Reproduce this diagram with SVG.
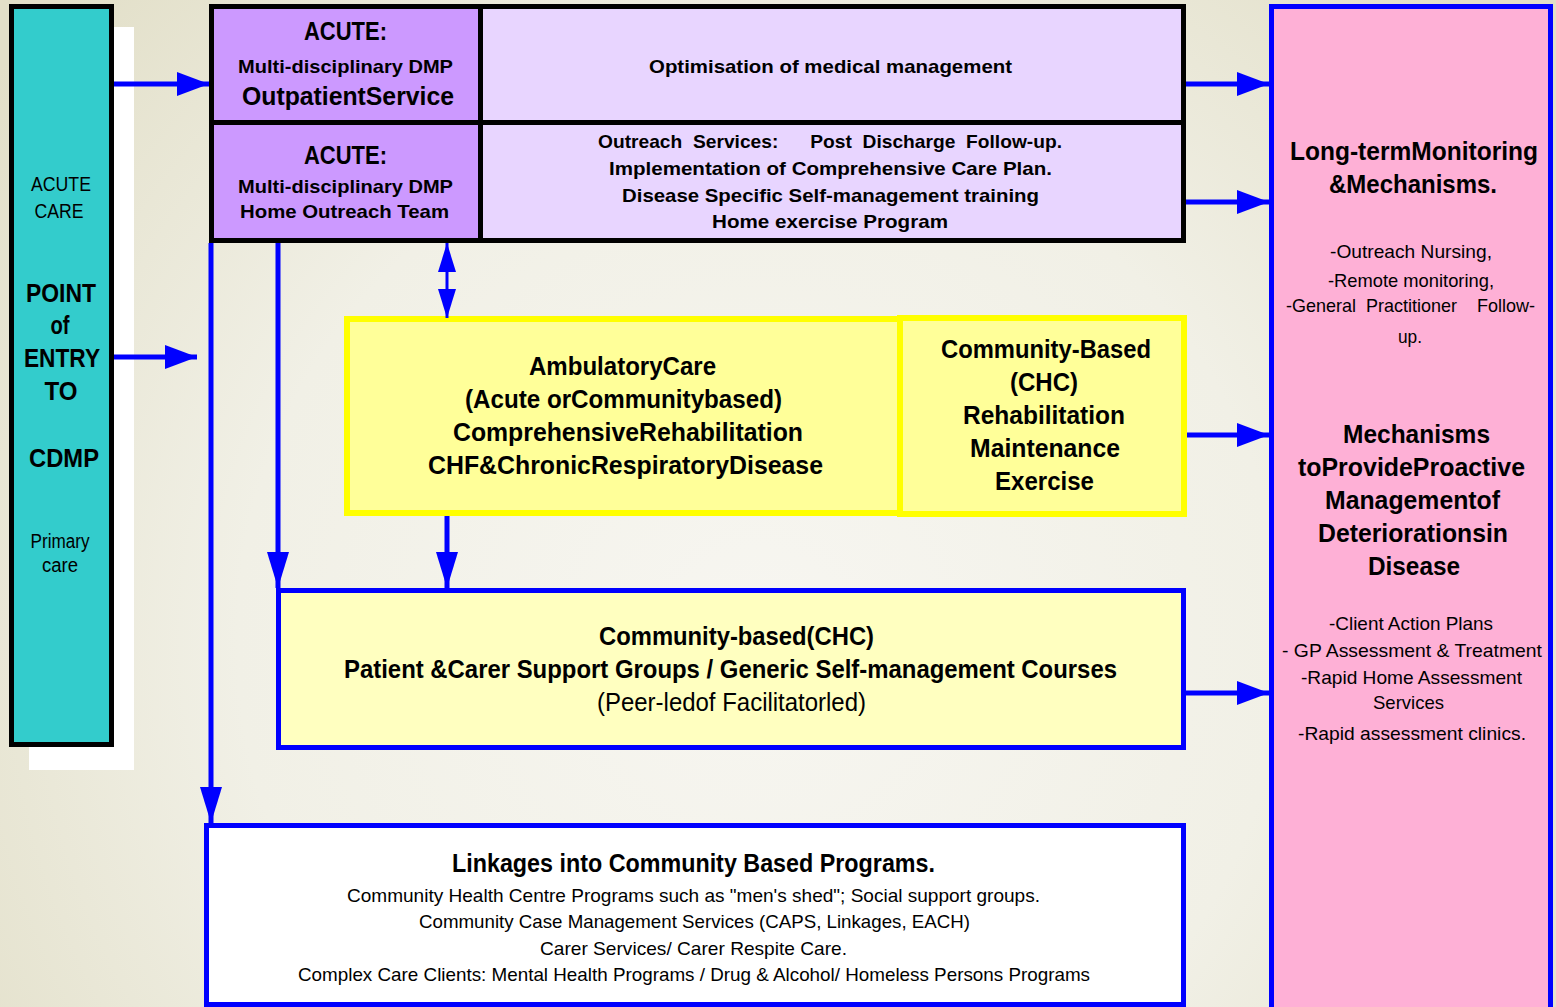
<svg xmlns="http://www.w3.org/2000/svg" width="1556" height="1007" viewBox="0 0 1556 1007">
<defs>
<radialGradient id="bg" cx="760" cy="640" r="950" gradientUnits="userSpaceOnUse">
<stop offset="0" stop-color="#f7f6f1"/>
<stop offset="0.55" stop-color="#f1f0e6"/>
<stop offset="1" stop-color="#e2dfc8"/>
</radialGradient>
<marker id="ah" markerUnits="userSpaceOnUse" markerWidth="32" markerHeight="24" refX="32" refY="12" orient="auto-start-reverse"><path d="M0,0 L32,12 L0,24 z" fill="#0000ff"/></marker>
<marker id="ahv" markerUnits="userSpaceOnUse" markerWidth="36" markerHeight="22" refX="36" refY="11" orient="auto-start-reverse"><path d="M0,0 L36,11 L0,22 z" fill="#0000ff"/></marker>
<marker id="ahs" markerUnits="userSpaceOnUse" markerWidth="29" markerHeight="18" refX="29" refY="9" orient="auto-start-reverse"><path d="M0,0 L29,9 L0,18 z" fill="#0000ff"/></marker>
<style>
text{font-family:"Liberation Sans",Arial,sans-serif;fill:#000;text-anchor:middle}
.b{font-weight:bold}
.k{stroke:#000;stroke-width:5}
.blue{stroke:#0000ff;stroke-width:5}
.yel{stroke:#ffff00;stroke-width:6;fill:#ffff99}
.c{stroke:#0000ff;stroke-width:5;fill:none}
</style>
</defs>
<rect width="1556" height="1007" fill="url(#bg)"/>

<g id="entry">
<rect x="29" y="27" width="105" height="743" fill="#ffffff"/>
<rect x="11.5" y="6.5" width="100" height="738" fill="#33cccc" class="k"/>
<text x="61" y="191" font-size="20" textLength="60" lengthAdjust="spacingAndGlyphs">ACUTE</text>
<text x="59" y="218" font-size="20" textLength="49" lengthAdjust="spacingAndGlyphs">CARE</text>
<text class="b" x="61" y="302" font-size="26" textLength="70" lengthAdjust="spacingAndGlyphs">POINT</text>
<text class="b" x="60" y="334" font-size="26" textLength="19" lengthAdjust="spacingAndGlyphs">of</text>
<text class="b" x="62" y="367" font-size="26" textLength="76" lengthAdjust="spacingAndGlyphs">ENTRY</text>
<text class="b" x="61" y="400" font-size="26" textLength="33" lengthAdjust="spacingAndGlyphs">TO</text>
<text class="b" x="64" y="467" font-size="26" textLength="70" lengthAdjust="spacingAndGlyphs">CDMP</text>
<text x="60" y="548" font-size="20" textLength="59" lengthAdjust="spacingAndGlyphs">Primary</text>
<text x="60" y="572" font-size="20" textLength="36" lengthAdjust="spacingAndGlyphs">care</text>
</g>

<g id="acute-outpatient">
<rect x="211.5" y="6.5" width="269" height="116" fill="#cc99ff" class="k"/>
<text class="b" x="345.5" y="40" font-size="25" textLength="83" lengthAdjust="spacingAndGlyphs">ACUTE:</text>
<text class="b" x="345.5" y="73" font-size="19" textLength="215" lengthAdjust="spacingAndGlyphs">Multi-disciplinary  DMP</text>
<text class="b" x="348" y="105" font-size="26" textLength="212" lengthAdjust="spacingAndGlyphs">OutpatientService</text>
</g>

<g id="optimisation">
<rect x="480.5" y="6.5" width="703" height="116" fill="#e8d5ff" class="k"/>
<text class="b" x="830.5" y="73" font-size="19" textLength="363" lengthAdjust="spacingAndGlyphs">Optimisation  of  medical  management</text>
</g>

<g id="acute-outreach">
<rect x="211.5" y="122.5" width="269" height="118" fill="#cc99ff" class="k"/>
<text class="b" x="345.5" y="164" font-size="25" textLength="83" lengthAdjust="spacingAndGlyphs">ACUTE:</text>
<text class="b" x="345.5" y="193" font-size="19" textLength="215" lengthAdjust="spacingAndGlyphs">Multi-disciplinary  DMP</text>
<text class="b" x="344.5" y="218" font-size="19" textLength="209" lengthAdjust="spacingAndGlyphs">Home  Outreach  Team</text>
</g>

<g id="outreach-services">
<rect x="480.5" y="122.5" width="703" height="118" fill="#e8d5ff" class="k"/>
<text class="b" x="830" y="148" font-size="19" textLength="464" lengthAdjust="spacingAndGlyphs" xml:space="preserve">Outreach  Services:      Post  Discharge  Follow-up.</text>
<text class="b" x="830.5" y="175" font-size="19" textLength="443" lengthAdjust="spacingAndGlyphs">Implementation  of  Comprehensive  Care  Plan.</text>
<text class="b" x="830.5" y="202" font-size="19" textLength="417" lengthAdjust="spacingAndGlyphs">Disease  Specific  Self-management  training</text>
<text class="b" x="830" y="228" font-size="19" textLength="236" lengthAdjust="spacingAndGlyphs">Home  exercise  Program</text>
</g>

<g id="ambulatory">
<rect x="347" y="319" width="553" height="194" class="yel"/>
<text class="b" x="622.5" y="375" font-size="25" textLength="187" lengthAdjust="spacingAndGlyphs">AmbulatoryCare</text>
<text class="b" x="623.5" y="408" font-size="25" textLength="317" lengthAdjust="spacingAndGlyphs">(Acute orCommunitybased)</text>
<text class="b" x="628" y="441" font-size="25" textLength="350" lengthAdjust="spacingAndGlyphs">ComprehensiveRehabilitation</text>
<text class="b" x="625.5" y="474" font-size="25" textLength="395" lengthAdjust="spacingAndGlyphs">CHF&amp;ChronicRespiratoryDisease</text>
</g>

<g id="chc-rehab">
<rect x="900" y="318" width="284" height="196" class="yel"/>
<text class="b" x="1046" y="358" font-size="25" textLength="210" lengthAdjust="spacingAndGlyphs">Community-Based</text>
<text class="b" x="1044" y="391" font-size="25" textLength="68" lengthAdjust="spacingAndGlyphs">(CHC)</text>
<text class="b" x="1044" y="424" font-size="25" textLength="162" lengthAdjust="spacingAndGlyphs">Rehabilitation</text>
<text class="b" x="1045" y="457" font-size="25" textLength="150" lengthAdjust="spacingAndGlyphs">Maintenance</text>
<text class="b" x="1044.5" y="490" font-size="25" textLength="99" lengthAdjust="spacingAndGlyphs">Exercise</text>
</g>

<g id="community-groups">
<rect x="278.5" y="590.5" width="905" height="157" fill="#ffffc0" class="blue"/>
<text class="b" x="736.5" y="645" font-size="25" textLength="275" lengthAdjust="spacingAndGlyphs">Community-based(CHC)</text>
<text class="b" x="730.5" y="678" font-size="25" textLength="773" lengthAdjust="spacingAndGlyphs">Patient &amp;Carer Support Groups / Generic Self-management Courses</text>
<text x="731.5" y="711" font-size="25" textLength="269" lengthAdjust="spacingAndGlyphs">(Peer-ledof Facilitatorled)</text>
</g>

<g id="linkages">
<rect x="206.5" y="825.5" width="977" height="179" fill="#ffffff" class="blue"/>
<text class="b" x="693.5" y="872" font-size="25" textLength="483" lengthAdjust="spacingAndGlyphs">Linkages into Community Based Programs.</text>
<text x="693.5" y="902" font-size="19" textLength="693" lengthAdjust="spacingAndGlyphs">Community  Health  Centre  Programs  such  as  "men's  shed";  Social  support  groups.</text>
<text x="694.5" y="928" font-size="19" textLength="551" lengthAdjust="spacingAndGlyphs">Community  Case  Management  Services  (CAPS,  Linkages,  EACH)</text>
<text x="693.5" y="955" font-size="19" textLength="307" lengthAdjust="spacingAndGlyphs">Carer  Services/  Carer  Respite  Care.</text>
<text x="694" y="981" font-size="19" textLength="792" lengthAdjust="spacingAndGlyphs">Complex  Care  Clients:  Mental  Health  Programs  /  Drug  &amp;  Alcohol/  Homeless  Persons  Programs</text>
</g>

<g id="long-term">
<rect x="1271.5" y="6.5" width="279" height="1010" fill="#feb0d6" class="blue"/>
<text class="b" x="1414" y="160" font-size="26" textLength="248" lengthAdjust="spacingAndGlyphs">Long-termMonitoring</text>
<text class="b" x="1413" y="193" font-size="26" textLength="168" lengthAdjust="spacingAndGlyphs">&amp;Mechanisms.</text>
<text x="1411" y="258" font-size="19" textLength="162" lengthAdjust="spacingAndGlyphs">-Outreach  Nursing,</text>
<text x="1411" y="287" font-size="19" textLength="166" lengthAdjust="spacingAndGlyphs">-Remote  monitoring,</text>
<text x="1410.5" y="312" font-size="19" textLength="249" lengthAdjust="spacingAndGlyphs" xml:space="preserve">-General  Practitioner    Follow-</text>
<text x="1410" y="343" font-size="19" textLength="24" lengthAdjust="spacingAndGlyphs">up.</text>
<text class="b" x="1416.5" y="443" font-size="25" textLength="147" lengthAdjust="spacingAndGlyphs">Mechanisms</text>
<text class="b" x="1411.5" y="476" font-size="25" textLength="227" lengthAdjust="spacingAndGlyphs">toProvideProactive</text>
<text class="b" x="1412.5" y="509" font-size="25" textLength="175" lengthAdjust="spacingAndGlyphs">Managementof</text>
<text class="b" x="1413" y="542" font-size="25" textLength="190" lengthAdjust="spacingAndGlyphs">Deteriorationsin</text>
<text class="b" x="1414" y="575" font-size="25" textLength="92" lengthAdjust="spacingAndGlyphs">Disease</text>
<text x="1411" y="630" font-size="19" textLength="164" lengthAdjust="spacingAndGlyphs">-Client  Action  Plans</text>
<text x="1412" y="657" font-size="19" textLength="260" lengthAdjust="spacingAndGlyphs">-  GP  Assessment  &amp;  Treatment</text>
<text x="1411.5" y="684" font-size="19" textLength="221" lengthAdjust="spacingAndGlyphs">-Rapid  Home  Assessment</text>
<text x="1408.5" y="709" font-size="19" textLength="71" lengthAdjust="spacingAndGlyphs">Services</text>
<text x="1412" y="740" font-size="19" textLength="228" lengthAdjust="spacingAndGlyphs">-Rapid  assessment  clinics.</text>
</g>

<g id="connectors">
<line x1="114" y1="84" x2="209" y2="84" class="c" marker-end="url(#ah)"/>
<line x1="114" y1="357" x2="197" y2="357" class="c" marker-end="url(#ah)"/>
<line x1="1186" y1="84" x2="1269" y2="84" class="c" marker-end="url(#ah)"/>
<line x1="1186" y1="202" x2="1269" y2="202" class="c" marker-end="url(#ah)"/>
<line x1="1187" y1="435" x2="1269" y2="435" class="c" marker-end="url(#ah)"/>
<line x1="1186" y1="693" x2="1269" y2="693" class="c" marker-end="url(#ah)"/>
<line x1="211" y1="243" x2="211" y2="823" class="c" marker-end="url(#ahv)"/>
<line x1="278" y1="243" x2="278" y2="588" class="c" marker-end="url(#ahv)"/>
<line x1="447" y1="516" x2="447" y2="588" class="c" marker-end="url(#ahv)"/>
<line x1="447" y1="243" x2="447" y2="318" stroke="#0000ff" stroke-width="3" marker-start="url(#ahs)" marker-end="url(#ahs)"/>
</g>
</svg>
